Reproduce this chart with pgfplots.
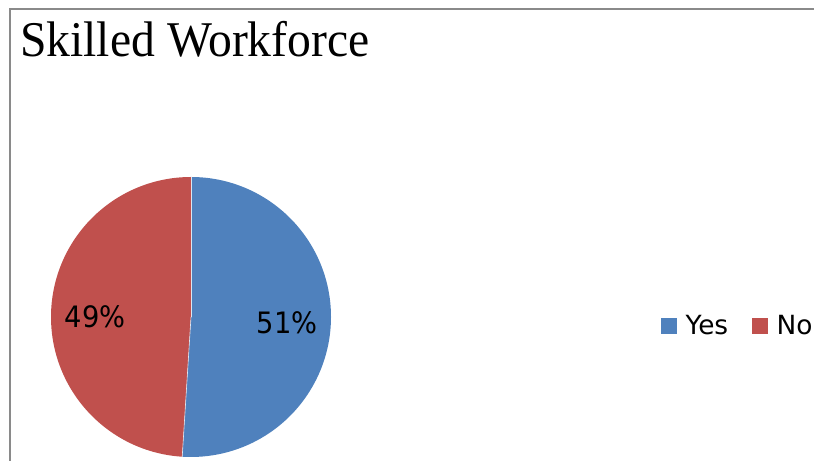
\documentclass[border=0pt]{standalone}
\usepackage{pgfplots}
\pgfplotsset{compat=1.18}
\usepackage{fontspec}
\setmainfont{Liberation Serif}
\newfontfamily\lblfont{DejaVu Sans}
\definecolor{pieblue}{HTML}{4F81BD}
\definecolor{piered}{HTML}{C0504D}
\definecolor{framegray}{HTML}{8A8A8A}
\begin{document}
\begin{tikzpicture}
\def\yes{51}
\def\no{49}
\begin{axis}[
  name=main,
  scale only axis, width=814bp, height=461bp,
  xmin=0, xmax=814, ymin=0, ymax=461,
  hide axis, clip=true,
  legend columns=2,
  legend style={at={(axis cs:661,135.5)}, anchor=west, draw=none, fill=none,
    inner sep=0pt, font=\lblfont\fontsize{26.5}{26.5}\selectfont,
    nodes={inner sep=0pt},
    /tikz/every odd column/.append style={column sep=9bp},
    /tikz/every even column/.append style={column sep=24bp}},
  legend image code/.code={\fill[#1] (0bp,-7.5bp) rectangle (15bp,7.5bp);},
]
\pgfmathsetmacro\angY{\yes/(\yes+\no)*360}
\pgfmathsetmacro\angN{\no/(\yes+\no)*360}
\fill[pieblue] (axis cs:191,144) -- (axis cs:191,284) arc[start angle=90, end angle={90-\angY}, radius=140bp] -- cycle;
\fill[piered] (axis cs:191,144) -- (axis cs:191,284) arc[start angle=90, end angle={90+\angN}, radius=140bp] -- cycle;
\draw[white!80!pieblue, line width=0.6bp] (axis cs:191,144) -- (axis cs:191,284);
\draw[white!80!pieblue, line width=0.6bp] (axis cs:191,144) -- ++({90-\angY}:140bp);
\addlegendimage{pieblue}
\addlegendentry{Yes}
\addlegendimage{piered}
\addlegendentry{No}
\node[font=\lblfont\fontsize{27.4}{27.4}\selectfont, inner sep=0pt] at (axis cs:287,138.5) {\scalebox{1}[1.08]{\yes\%}};
\node[font=\lblfont\fontsize{27.4}{27.4}\selectfont, inner sep=0pt] at (axis cs:95,144.5) {\scalebox{1}[1.08]{\no\%}};
\fill[white] (axis cs:800,410) rectangle (axis cs:814,451);
\draw[framegray, line width=2bp, line cap=butt] (axis cs:10,0) -- (axis cs:10,452) -- (axis cs:814,452);
\node[anchor=base west, inner sep=0pt] at (axis cs:20,404) {\scalebox{1}[1.05]{\fontsize{47.8}{47.8}\selectfont Skilled Workforce}};
\end{axis}
\pgfresetboundingbox
\useasboundingbox (main.south west) rectangle (main.north east);
\end{tikzpicture}
\end{document}
